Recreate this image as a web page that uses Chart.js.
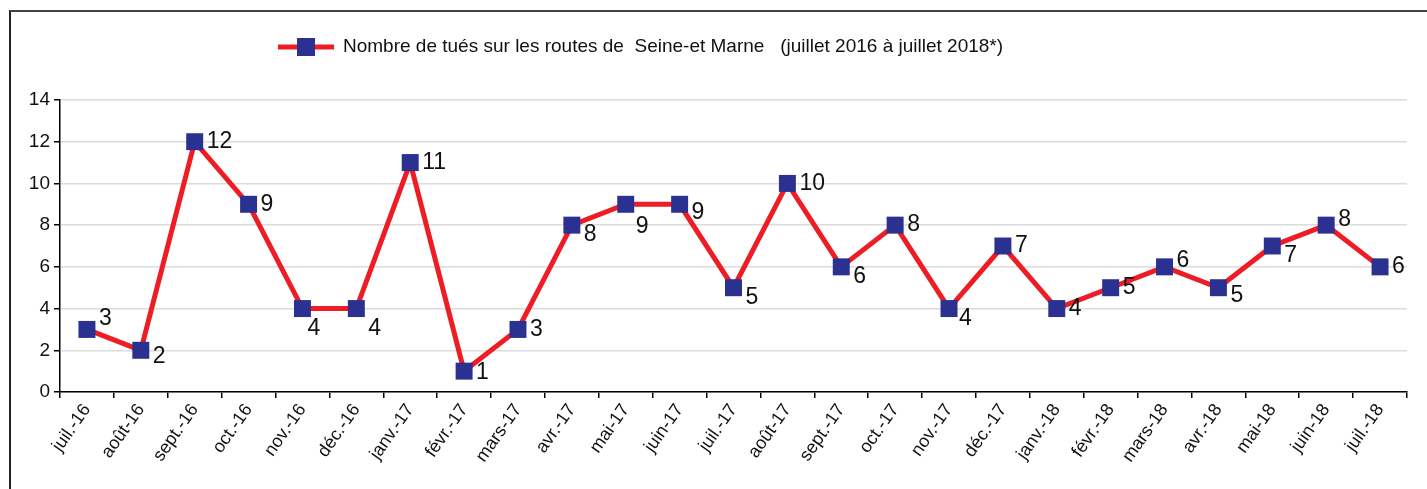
<!DOCTYPE html>
<html>
<head>
<meta charset="utf-8">
<script src="https://cdn.jsdelivr.net/npm/chart.js@4"></script>
<style>
  html, body { margin: 0; padding: 0; background: #fff; }
  #wrap { position: relative; width: 1427px; height: 489px; overflow: hidden; }
  #frame { position: absolute; left: 9px; top: 10px; width: 1500px; height: 600px;
           border-top: 2px solid #444; border-left: 2px solid #222; }
  canvas { position: absolute; left: 0; top: 0; }
</style>
</head>
<body>
<div id="wrap">
  <div id="frame"></div>
  <canvas id="lineChart" width="1427" height="489"></canvas>
</div>
<script>
const months = ['juil.-16', 'août-16', 'sept.-16', 'oct.-16', 'nov.-16', 'déc.-16', 'janv.-17',
    'févr.-17', 'mars-17', 'avr.-17', 'mai-17', 'juin-17', 'juil.-17', 'août-17', 'sept.-17',
    'oct.-17', 'nov.-17', 'déc.-17', 'janv.-18', 'févr.-18', 'mars-18', 'avr.-18', 'mai-18',
    'juin-18', 'juil.-18'];
const killed = [3, 2, 12, 9, 4, 4, 11, 1, 3, 8, 9, 9, 5, 10, 6, 8, 4, 7, 4, 5, 6, 5, 7, 8, 6];
const yTicks = [0, 2, 4, 6, 8, 10, 12, 14];
const seriesName = 'Nombre de tués sur les routes de  Seine-et Marne   (juillet 2016 à juillet 2018*)';

// nudge of each value label (px), like the original
const labelShift = [-11, 6, 0, 0, 20, 20, 0, 2, 0, 10, 22, 8, 10, 0, 10, 0, 10, 0, 0, 0, -6, 8, 10, -5, 0];
const labelShiftX = [12, 12, 12, 12, 5, 12, 12, 12, 12, 12, 10, 12, 12, 12, 12, 12, 10, 12, 12, 12, 12, 12, 12, 12, 12];

const FONT = 'Liberation Sans, Arial, sans-serif';

const valueLabels = {
    id: 'valueLabels',
    afterDatasetsDraw(chart) {
        const ctx = chart.ctx;
        const meta = chart.getDatasetMeta(0);
        ctx.save();
        ctx.font = '23px ' + FONT;
        ctx.fillStyle = '#111';
        ctx.textAlign = 'left';
        ctx.textBaseline = 'middle';
        meta.data.forEach((pt, i) => {
            ctx.fillText(String(killed[i]), pt.x + labelShiftX[i], pt.y + labelShift[i]);
        });
        ctx.restore();
    }
};

const legendBox = {
    id: 'legendBox',
    afterDraw(chart) {
        const ctx = chart.ctx;
        ctx.save();
        ctx.strokeStyle = '#ee1c25';
        ctx.lineWidth = 5;
        ctx.beginPath();
        ctx.moveTo(278, 47);
        ctx.lineTo(334, 47);
        ctx.stroke();
        ctx.fillStyle = '#2b3190';
        ctx.fillRect(297, 38, 18, 18);
        ctx.font = '19px ' + FONT;
        ctx.fillStyle = '#111';
        ctx.textBaseline = 'middle';
        ctx.fillText(seriesName, 343, 47);
        ctx.restore();
    }
};

const ctx = document.getElementById('lineChart').getContext('2d');
const myChart = new Chart(ctx, {
    type: 'line',
    data: {
        labels: months,
        datasets: [{
            label: seriesName,
            data: killed,
            borderColor: '#ee1c25',
            borderWidth: 5,
            pointStyle: 'rect',
            pointRadius: 12,
            pointHoverRadius: 12,
            pointBackgroundColor: '#2b3190',
            pointBorderColor: '#2b3190',
            pointBorderWidth: 0,
            tension: 0,
            clip: false
        }]
    },
    options: {
        responsive: false,
        animation: false,
        layout: { padding: { top: 100, right: 20, left: 0, bottom: 0 } },
        plugins: {
            legend: { display: false },
            tooltip: { enabled: false }
        },
        scales: {
            x: {
                offset: true,
                grid: {
                    offset: true,
                    drawOnChartArea: false,
                    drawTicks: true,
                    tickLength: 6,
                    tickColor: '#000',
                    lineWidth: 1.5
                },
                border: { color: '#000', width: 1.5 },
                ticks: {
                    color: '#111',
                    font: { family: FONT, size: 18 },
                    minRotation: 55,
                    maxRotation: 55,
                    autoSkip: false,
                    padding: 2
                },
                afterFit(scale) { scale.height = 97; }
            },
            y: {
                min: 0,
                max: 14,
                afterBuildTicks(scale) { scale.ticks = yTicks.map(v => ({ value: v })); },
                grid: {
                    color: '#dcdcdc',
                    lineWidth: 1.5,
                    tickLength: 6,
                    tickColor: '#000'
                },
                border: { color: '#000', width: 1.5 },
                ticks: {
                    color: '#111',
                    font: { family: FONT, size: 19 },
                    padding: 4
                },
                afterFit(scale) { scale.width = 60; }
            }
        }
    },
    plugins: [valueLabels, legendBox]
});
</script>
</body>
</html>
